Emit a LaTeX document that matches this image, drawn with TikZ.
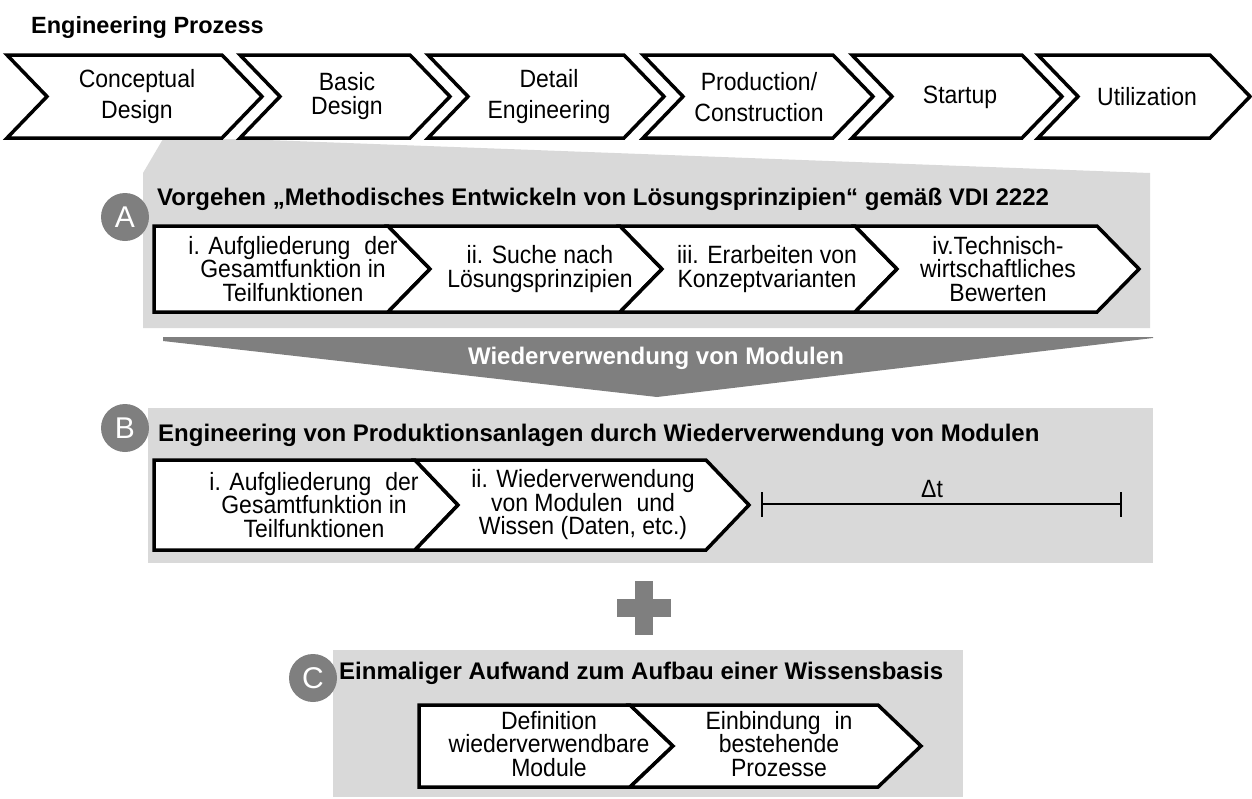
\documentclass[tikz,border=0pt]{standalone}
\usepackage{fontspec}
\setmainfont{Liberation Sans}
\newfontfamily\narrowsans[FakeStretch=0.92]{Liberation Sans}
\usetikzlibrary{calc}
\definecolor{panelgray}{HTML}{D9D9D9}
\definecolor{accentgray}{HTML}{7F7F7F}

\tikzset{
  stagebox/.style={draw=black, fill=white, line width=3.5pt, line join=miter},
  stepbox/.style={draw=black, fill=white, line width=3.5pt, line join=miter},
  bodytext/.style={font=\narrowsans\fontsize{25}{23.5}\selectfont, align=center, inner sep=0pt},
  stagetext/.style={font=\narrowsans\fontsize{25}{31}\selectfont, align=center, inner sep=0pt},
  headtext/.style={font=\bfseries\fontsize{24}{28}\selectfont, anchor=base west, inner sep=0pt},
  badge/.style={circle, fill=accentgray, text=white, minimum size=48pt, inner sep=0pt,
                font=\fontsize{30}{30}\selectfont},
}

\begin{document}
\begin{tikzpicture}[x=1pt, y=-1pt]
\useasboundingbox (0,0) rectangle (1252,798);

% ---------- title ----------
\node[font=\bfseries\fontsize{23.5}{26}\selectfont, anchor=base west, inner sep=0pt]
  (title) at (31,33) {Engineering Prozess};

% ---------- background panels ----------
% callout from "Conceptual Design" widening into panel A
\fill[panelgray] (163,139) -- (240,139) -- (1150,173) -- (1150,328) -- (143,328) -- (143,173) -- cycle;
% funnel
\fill[accentgray] (163,337) -- (1153,337) -- (1153,338) -- (657,397) -- (163,341) -- cycle;
% panel B
\fill[panelgray] (148,408) rectangle (1153,563);
% plus sign
\fill[accentgray] (635,581) rectangle (653,635);
\fill[accentgray] (617,599) rectangle (671,617);
% panel C
\fill[panelgray] (333,650) rectangle (963,797);

% ---------- engineering process stages ----------
\foreach \L/\R in {7/222, 240/410, 428/624, 643/833, 852/1022, 1038/1210}
  \draw[stagebox] (\L,55) -- (\R,55) -- ({\R+40},96.5) -- (\R,138) -- (\L,138) -- ({\L+40},96.5) -- cycle;

\node[stagetext] (s1) at (137,97) {Conceptual\\Design};
\node[font=\narrowsans\fontsize{25}{24}\selectfont, align=center, inner sep=0pt] (s2) at (347,96) {Basic\\Design};
\node[stagetext] (s3) at (549,97) {Detail\\Engineering};
\node[stagetext] (s4) at (759,97) {Production/\\Construction};
\node[stagetext] (s5) at (960,97) {Startup};
\node[stagetext] (s6) at (1147,97) {Utilization};

% ---------- panel A ----------
\node[headtext] (headA) at (157,205)
  {Vorgehen „Methodisches Entwickeln von Lösungsprinzipien“ gemäß VDI 2222};

\draw[stepbox] (154,226) -- (388,226) -- (430,269) -- (388,312) -- (154,312) -- cycle;
\draw[stepbox] (388,226) -- (620,226) -- (662,269) -- (620,312) -- (388,312) -- (430,269) -- cycle;
\draw[stepbox] (620,226) -- (855,226) -- (897,269) -- (855,312) -- (620,312) -- (662,269) -- cycle;
\draw[stepbox] (855,226) -- (1097,226) -- (1139,269) -- (1097,312) -- (855,312) -- (897,269) -- cycle;

\node[bodytext] (a1) at (293,269) {i. Aufgliederung\hspace{0.3em} der\\Gesamtfunktion in\\Teilfunktionen};
\node[bodytext] (a2) at (540,269) {ii. Suche nach\\Lösungsprinzipien};
\node[bodytext] (a3) at (767,269) {iii. Erarbeiten von\\Konzeptvarianten};
\node[bodytext] (a4) at (998,269) {iv.Technisch-\\wirtschaftliches\\Bewerten};

\node[badge] (badgeA) at (125,217) {A};

% ---------- funnel label ----------
\node[font=\bfseries\fontsize{24}{28}\selectfont, text=white, anchor=base, inner sep=0pt]
  (reuse) at (656,364) {Wiederverwendung von Modulen};

% ---------- panel B ----------
\node[headtext] (headB) at (158,441)
  {Engineering von Produktionsanlagen durch Wiederverwendung von Modulen};

\draw[stepbox] (154,460) -- (415,460) -- (458,505) -- (415,550) -- (154,550) -- cycle;
\draw[stepbox] (415,460) -- (706,460) -- (749,505) -- (706,550) -- (415,550) -- (458,505) -- cycle;

\node[bodytext] (b1) at (314,505) {i. Aufgliederung\hspace{0.3em} der\\Gesamtfunktion in\\Teilfunktionen};
\node[bodytext] (b2) at (583,505) {ii. Wiederverwendung\\von Modulen\hspace{0.3em} und\\Wissen (Daten, etc.)};

% time span
\coordinate (dtL) at (762,504);
\coordinate (dtR) at (1121,504);
\draw[line width=2.5pt] (dtL) -- (dtR);
\draw[line width=2.5pt] ($(dtL)+(0,-12)$) -- ($(dtL)+(0,13)$);
\draw[line width=2.5pt] ($(dtR)+(0,-12)$) -- ($(dtR)+(0,13)$);
\node[font=\narrowsans\fontsize{25}{26}\selectfont, anchor=base, inner sep=0pt] (dt) at (932,497) {Δt};

\node[badge] (badgeB) at (125,428) {B};

% ---------- panel C ----------
\node[headtext] (headC) at (339,679) {Einmaliger Aufwand zum Aufbau einer Wissensbasis};

\draw[stepbox] (419,705) -- (630,705) -- (673,746) -- (630,787) -- (419,787) -- cycle;
\draw[stepbox] (630,705) -- (878,705) -- (921,746) -- (878,787) -- (630,787) -- (673,746) -- cycle;

\node[bodytext] (c1) at (549,744) {Definition\\wiederverwendbare\\Module};
\node[bodytext] (c2) at (779,744) {Einbindung\hspace{0.3em} in\\bestehende\\Prozesse};

\node[badge] (badgeC) at (313,678) {C};
\end{tikzpicture}
\end{document}
